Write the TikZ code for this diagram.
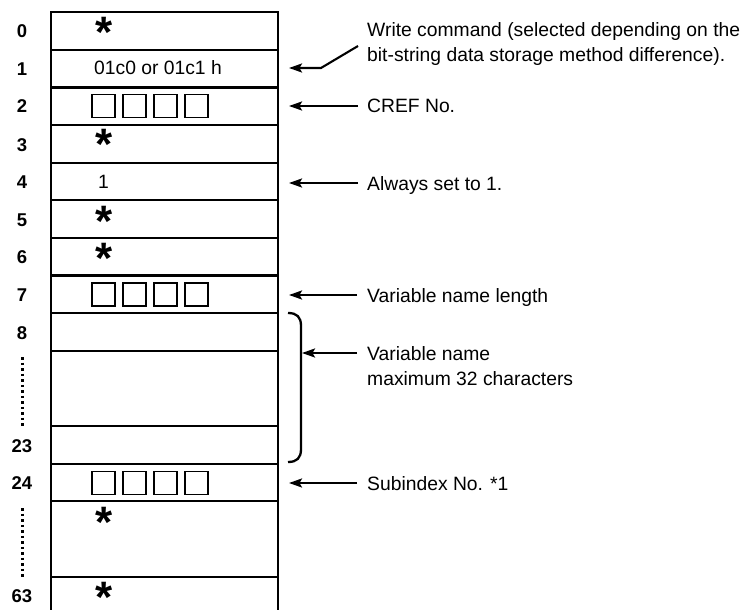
\documentclass[tikz,border=0pt]{standalone}
\usepackage{fontspec}
\setmainfont{Liberation Sans}
\usetikzlibrary{arrows.meta}
\tikzset{
  rowbox/.style={draw, line width=2.6pt, rectangle, minimum width=227pt, inner sep=0pt},
  sqbox/.style={draw, line width=1.9pt, rectangle, minimum size=23pt, inner sep=0pt},
  starmark/.style={anchor=base, inner sep=0pt, font=\fontsize{44}{44}\selectfont\bfseries},
  celltxt/.style={anchor=base, inner sep=0pt, font=\fontsize{19.3}{25}\selectfont},
  rowlbl/.style={anchor=base, inner sep=0pt, font=\fontsize{18.5}{20}\selectfont\bfseries},
  lbl/.style={anchor=base west, inner sep=0pt, align=left, font=\fontsize{19.3}{25}\selectfont},
  arr/.style={line width=2.1pt, -{Stealth[length=13pt,width=9pt,inset=2.5pt]}},
  brk/.style={line width=2.3pt},
  dots/.style={line width=3pt, dash pattern=on 2.5pt off 3pt}
}
\begin{document}
\begin{tikzpicture}[x=1pt,y=-1pt]
\useasboundingbox (0,0) rectangle (748,610);
\clip (0,0) rectangle (748,610);
\fill[white] (0,0) rectangle (748,610);
% table rows
\foreach \n/\t/\b in {r0/12/50, r1/50/87.5, r2/87.5/125, r3/125/163, r4/163/200, r5/200/238, r6/238/275.5, r7/275.5/313, r8/313/351, rgap/351/426, r23/426/464, r24/464/501, rgapb/501/577, r63/577/640}
  \node[rowbox, minimum height={(\b-\t)*1pt}] (\n) at (164.5,{(\t+\b)/2}) {};
% row labels
\node[rowlbl] (l0) at (22,38) {0};
\node[rowlbl] (l1) at (22,75.5) {1};
\node[rowlbl] (l2) at (22,113) {2};
\node[rowlbl] (l3) at (22,151) {3};
\node[rowlbl] (l4) at (22,188.5) {4};
\node[rowlbl] (l5) at (22,226) {5};
\node[rowlbl] (l6) at (22,263.5) {6};
\node[rowlbl] (l7) at (22,301) {7};
\node[rowlbl] (l8) at (22,339) {8};
\node[rowlbl] (l23) at (22,452) {23};
\node[rowlbl] (l24) at (22,489.5) {24};
\node[rowlbl] (l63) at (22,602) {63};
\coordinate (d1a) at (22,357); \coordinate (d1b) at (22,428);
\coordinate (d2a) at (22,508); \coordinate (d2b) at (22,577);
\draw[dots] (d1a) -- (d1b);
\draw[dots] (d2a) -- (d2b);
% stars
\node[starmark] (s0) at (104,48) {*};
\node[starmark] (s3) at (104,160) {*};
\node[starmark] (s5) at (104,236) {*};
\node[starmark] (s6) at (104,273) {*};
\node[starmark] (sb) at (104,537) {*};
\node[starmark] (s63) at (104,612) {*};
% cell texts
\node[celltxt] (c1) at (158,75) {01c0 or 01c1 h};
\node[celltxt] (c4) at (103.5,189) {1};
% squares
\foreach \y/\r in {106/a, 294.5/b, 483/c}
  \foreach \k in {0,1,2,3}
    \node[sqbox] (q\r\k) at ({103.75+31*\k},\y) {};
% bracket
\coordinate (bt) at (288,313);
\coordinate (bb) at (288,462);
\draw[brk] (bt) .. controls (297,313) and (301,317) .. (301,326) -- (301,449) .. controls (301,458) and (297,462) .. (bb);
% labels
\node[lbl] (t1) at (367,62) {Write command (selected depending on the\\bit-string data storage method difference).};
\node[lbl] (t2) at (367,113) {CREF No.};
\node[lbl] (t4) at (367,190) {Always set to 1.};
\node[lbl] (t7) at (367,302) {Variable name length};
\node[lbl] (tv) at (367,385) {Variable name\\maximum 32 characters};
\node[lbl] (t24) at (367,490) {Subindex No. *1};
% arrows
\coordinate (a1s) at (358,46); \coordinate (a1m) at (321,68); \coordinate (a1e) at (289,68);
\draw[arr] (a1s) -- (a1m) -- (a1e);
\coordinate (a2s) at (358,106); \coordinate (a2e) at (289,106);
\draw[arr] (a2s) -- (a2e);
\coordinate (a4s) at (358,183); \coordinate (a4e) at (289,183);
\draw[arr] (a4s) -- (a4e);
\coordinate (a7s) at (357,295); \coordinate (a7e) at (289,295);
\draw[arr] (a7s) -- (a7e);
\coordinate (avs) at (357,353); \coordinate (ave) at (302,353);
\draw[arr] (avs) -- (ave);
\coordinate (a24s) at (357,483); \coordinate (a24e) at (289,483);
\draw[arr] (a24s) -- (a24e);
\end{tikzpicture}
\end{document}
